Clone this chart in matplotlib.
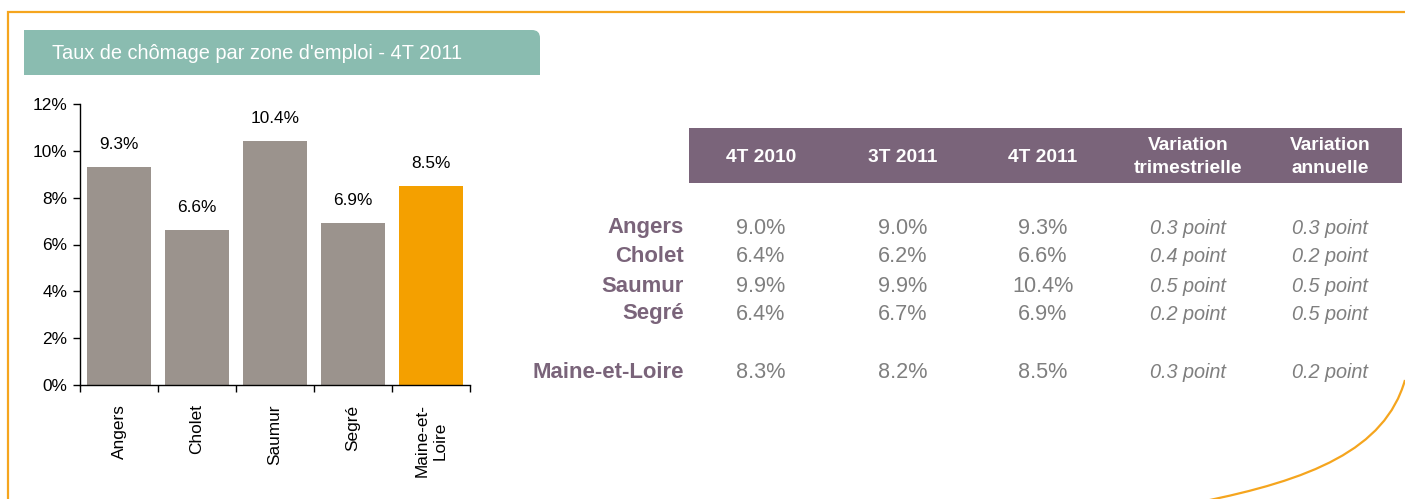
import matplotlib
matplotlib.use("Agg")
import matplotlib.pyplot as plt
from matplotlib.patches import Rectangle, PathPatch, FancyBboxPatch
from matplotlib.path import Path

plt.rcParams['font.family'] = ['Liberation Sans', 'DejaVu Sans']

# ---- data ----
zones = ["Angers", "Cholet", "Saumur", "Segré", "Maine-et-\nLoire"]
rates_4t2011 = [9.3, 6.6, 10.4, 6.9, 8.5]
yticks = [0, 2, 4, 6, 8, 10, 12]

title = "Taux de chômage par zone d'emploi - 4T 2011"
table_headers = ["4T 2010", "3T 2011", "4T 2011", "Variation\ntrimestrielle", "Variation\nannuelle"]
table_rows = ["Angers", "Cholet", "Saumur", "Segré", "Maine-et-Loire"]
col_4t2010 = ["9.0%", "6.4%", "9.9%", "6.4%", "8.3%"]
col_3t2011 = ["9.0%", "6.2%", "9.9%", "6.7%", "8.2%"]
col_4t2011 = ["9.3%", "6.6%", "10.4%", "6.9%", "8.5%"]
col_var_trim = ["0.3 point", "0.4 point", "0.5 point", "0.2 point", "0.3 point"]
col_var_ann = ["0.3 point", "0.2 point", "0.5 point", "0.5 point", "0.2 point"]

# ---- colours ----
GREY_BAR = "#9b938d"
ORANGE_BAR = "#f4a000"
FRAME = "#f5a51e"
BANNER = "#8abcb0"
PURPLE = "#7a647a"
VAL_GREY = "#7f7f7f"

W, H = 1405, 499
fig = plt.figure(figsize=(W / 100, H / 100), dpi=100)

# background / overlay axes in pixel coordinates
bg = fig.add_axes([0, 0, 1, 1], zorder=0)
bg.set_xlim(0, W)
bg.set_ylim(H, 0)
bg.axis("off")

# frame
bg.plot([8, 8, W + 5], [H + 5, 12, 12], color=FRAME, lw=1.6, solid_joinstyle="miter")
curve = Path([(1405, 380), (1385, 450), (1310, 480), (1200, 502)],
             [Path.MOVETO, Path.CURVE4, Path.CURVE4, Path.CURVE4])
bg.add_patch(PathPatch(curve, facecolor="none", edgecolor=FRAME, lw=1.6))

# banner (slightly rounded top-right corner)
banner = Path([(24, 30), (532, 30), (540, 30), (540, 38), (540, 75), (24, 75), (24, 30)],
              [Path.MOVETO, Path.LINETO, Path.CURVE3, Path.CURVE3, Path.LINETO,
               Path.LINETO, Path.CLOSEPOLY])
bg.add_patch(PathPatch(banner, facecolor=BANNER, edgecolor="none"))
bg.text(52, 53, title, color="white", fontsize=14.4, ha="left", va="center")

# table header
bg.add_patch(Rectangle((689, 128), 713, 55, facecolor=PURPLE, edgecolor="none"))
col_x = [761, 903, 1043, 1188, 1330]
for cx, h in zip(col_x, table_headers):
    bg.text(cx, 157, h, color="white", fontsize=13.8, fontweight="bold",
            ha="center", va="center", linespacing=1.45)

row_y = [228, 257, 286, 314, 372]
cols = [col_4t2010, col_3t2011, col_4t2011, col_var_trim, col_var_ann]
for i, (ry, name) in enumerate(zip(row_y, table_rows)):
    bg.text(684, ry, name, color=PURPLE, fontsize=15.9, fontweight="bold",
            ha="right", va="center")
    for j, (cx, col) in enumerate(zip(col_x, cols)):
        if j < 3:
            bg.text(cx, ry, col[i], color=VAL_GREY, fontsize=15.6,
                    ha="center", va="center")
        else:
            bg.text(cx, ry, col[i], color=VAL_GREY, fontsize=14.3,
                    style="italic", ha="center", va="center")

# ---- bar chart ----
ax = fig.add_axes([80 / W, (H - 385) / H, 390 / W, (385 - 104) / H], zorder=1)
ax.patch.set_alpha(0)
colors = [GREY_BAR] * (len(zones) - 1) + [ORANGE_BAR]
x = list(range(len(zones)))
bars = ax.bar(x, rates_4t2011, width=0.83, color=colors)
for xi, v in zip(x, rates_4t2011):
    ax.annotate(f"{v:.1f}%", (xi, v), xytext=(0, 11), textcoords="offset points",
                ha="center", va="bottom", fontsize=12.4, color="black")

ax.set_xlim(-0.5, len(zones) - 0.5)
ax.set_ylim(0, 12)
ax.set_yticks(yticks)
ax.set_yticklabels([f"{t}%" for t in yticks], fontsize=12.4)
ax.set_xticks(x)
ax.set_xticklabels(zones, rotation=90, fontsize=12.4, ha="center", va="top",
                   multialignment="center")
ax.set_xticks([i - 0.5 for i in range(len(zones) + 1)], minor=True)
ax.tick_params(axis="x", which="major", length=0, pad=14)
ax.tick_params(axis="x", which="minor", length=5, direction="out", width=1)
ax.tick_params(axis="y", length=5, direction="out", width=1, pad=4)
for s in ["top", "right"]:
    ax.spines[s].set_visible(False)
ax.spines["left"].set_linewidth(1)
ax.spines["bottom"].set_linewidth(1)

fig.savefig("out.png", dpi=100)
